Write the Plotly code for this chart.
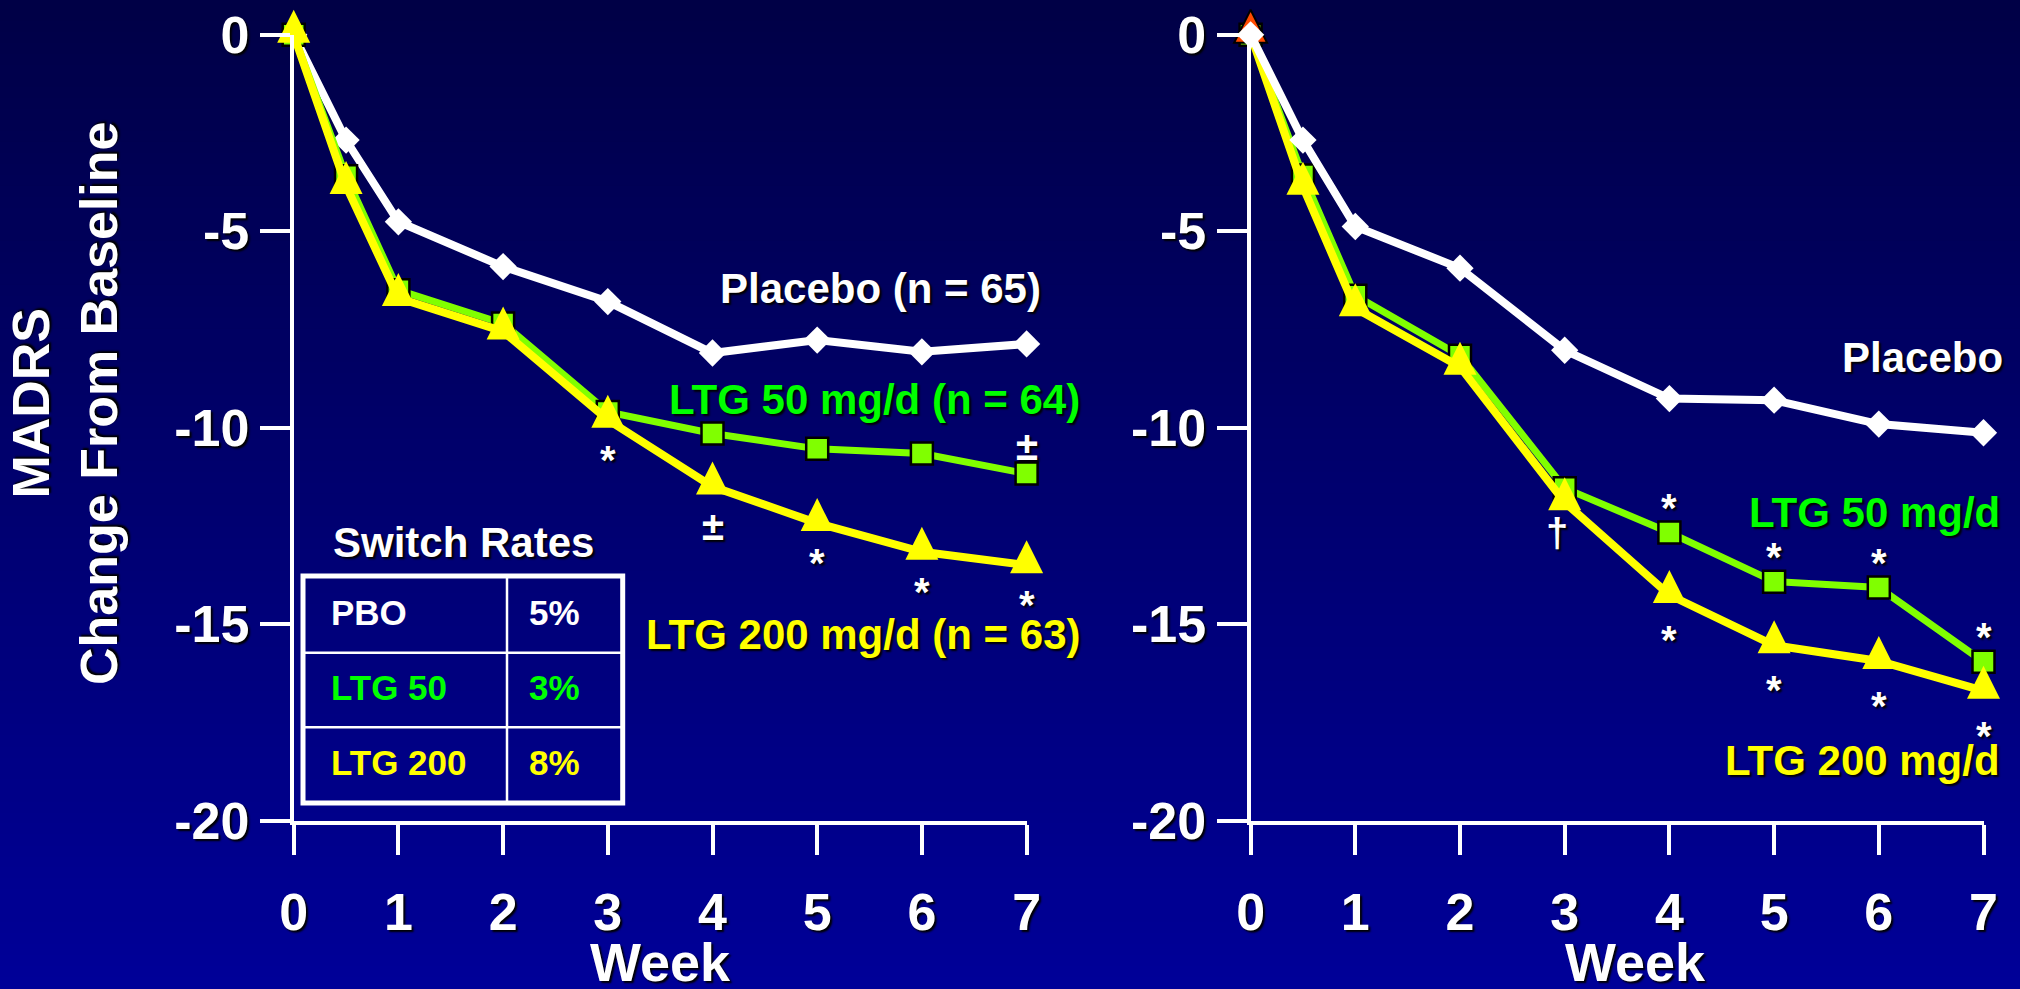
import plotly.graph_objects as go

W, H = 2020, 989

# ---------------- data ----------------
weeks = [0, 0.5, 1, 2, 3, 4, 5, 6, 7]

# Left panel
placebo_a = [0, -2.68, -4.76, -5.9, -6.79, -8.1, -7.77, -8.07, -7.87]
ltg50_a = [0, -3.6, -6.5, -7.35, -9.6, -10.15, -10.54, -10.66, -11.17]
ltg200_a = [0, -3.85, -6.7, -7.55, -9.8, -11.5, -12.43, -13.16, -13.5]
sig_ltg50_a = ["", "", "", "", "", "", "", "", "±"]
sig_ltg200_a = ["", "", "", "", "*", "±", "*", "*", "*"]

# Right panel
placebo_b = [0, -2.68, -4.88, -5.94, -8.03, -9.26, -9.3, -9.91, -10.13]
ltg50_b = [0, -3.58, -6.64, -8.17, -11.54, -12.67, -13.92, -14.07, -15.96]
ltg200_b = [0, -3.87, -6.96, -8.45, -11.9, -14.26, -15.54, -15.94, -16.7]
sig_ltg50_b = ["", "", "", "", "", "*", "*", "*", "*"]
sig_ltg200_b = ["", "", "", "", "†", "*", "*", "*", "*"]

x_ticks = [0, 1, 2, 3, 4, 5, 6, 7]
y_ticks = [0, -5, -10, -15, -20]
y_ticklabels = ["0", "-5", "-10", "-15", "-20"]

left_labels = ["Placebo (n = 65)", "LTG 50 mg/d (n = 64)", "LTG 200 mg/d (n = 63)"]
right_labels = ["Placebo", "LTG 50 mg/d", "LTG 200 mg/d"]

switch_title = "Switch Rates"
switch_groups = ["PBO", "LTG 50", "LTG 200"]
switch_rates = ["5%", "3%", "8%"]

x_title = "Week"
y_title = "MADRS<br>Change From Baseline"

# ---------------- style ----------------
FONT = "Liberation Sans, Arial, Helvetica, sans-serif"
SHADOW = "2px 2px 2px #000000"
WHITE = "#FFFFFF"
GREEN_LINE = "#80FF00"
GREEN_TEXT = "#00FF00"
YELLOW = "#FFFF00"
ORANGE = "#FF4A00"


def fx(px):
    return px / W


def fy(py):
    return 1 - py / H


fig = go.Figure()

# gradient background
shapes = []
n_strips = 90
top_c = (0, 0, 70)
bot_c = (0, 0, 152)
for i in range(n_strips):
    t = i / (n_strips - 1)
    c = tuple(round(top_c[k] + (bot_c[k] - top_c[k]) * t) for k in range(3))
    shapes.append(dict(type="rect", xref="paper", yref="paper", layer="below",
                       x0=0, x1=1, y0=1 - (i + 1) / n_strips - 0.002, y1=1 - i / n_strips + 0.001,
                       fillcolor="rgb(%d,%d,%d)" % c, line=dict(width=0)))


def placebo_trace(y, xa, ya):
    return go.Scatter(x=weeks, y=y, xaxis=xa, yaxis=ya, mode="lines+markers",
                      line=dict(color=WHITE, width=8),
                      marker=dict(symbol="diamond", size=21, color=WHITE, line=dict(width=0)),
                      cliponaxis=False, showlegend=False, hoverinfo="skip")


def ltg50_trace(y, xa, ya):
    return go.Scatter(x=weeks, y=y, xaxis=xa, yaxis=ya, mode="lines+markers",
                      line=dict(color=GREEN_LINE, width=7),
                      marker=dict(symbol="square", size=22, color=GREEN_LINE,
                                  line=dict(color="#000000", width=2.5)),
                      cliponaxis=False, showlegend=False, hoverinfo="skip")


def ltg200_trace(y, xa, ya, first_color=YELLOW, first_line=0):
    colors = [first_color] + [YELLOW] * (len(y) - 1)
    lws = [first_line] + [0] * (len(y) - 1)
    return go.Scatter(x=weeks, y=y, xaxis=xa, yaxis=ya, mode="lines+markers",
                      line=dict(color=YELLOW, width=8),
                      marker=dict(symbol="arrow-down", angle=180, standoff=25, size=33,
                                  color=colors, line=dict(color="#000000", width=lws)),
                      cliponaxis=False, showlegend=False, hoverinfo="skip")


# left panel: placebo under, yellow on top
fig.add_trace(placebo_trace(placebo_a, "x", "y"))
fig.add_trace(ltg50_trace(ltg50_a, "x", "y"))
fig.add_trace(ltg200_trace(ltg200_a, "x", "y"))
# right panel: placebo on top
fig.add_trace(ltg50_trace(ltg50_b, "x2", "y2"))
fig.add_trace(ltg200_trace(ltg200_b, "x2", "y2", first_color=ORANGE, first_line=2))
fig.add_trace(placebo_trace(placebo_b, "x2", "y2"))

annotations = []


def sig_marks(sig, values, xref, yref, shifts):
    for wk, v, s in zip(weeks, values, sig):
        if not s:
            continue
        xs = -8 if s == "†" else 0
        annotations.append(dict(x=wk, y=v, xref=xref, yref=yref, text=s, showarrow=False,
                                xanchor="center", yanchor="middle", yshift=shifts[s], xshift=xs,
                                font=dict(family=FONT, size=40, color=WHITE, weight="bold",
                                          shadow=SHADOW)))


sig_marks(sig_ltg200_a, ltg200_a, "x", "y", {"*": -40, "±": -39})
sig_marks(sig_ltg50_a, ltg50_a, "x", "y", {"±": 28})
sig_marks(sig_ltg200_b, ltg200_b, "x2", "y2", {"*": -45, "†": -31})
sig_marks(sig_ltg50_b, ltg50_b, "x2", "y2", {"*": 25})


def label(text, px, py, color, size=42, anchor="right", shadow=SHADOW, angle=0):
    annotations.append(dict(x=fx(px), y=fy(py), xref="paper", yref="paper", text=text,
                            showarrow=False, xanchor=anchor, yanchor="middle", textangle=angle,
                            font=dict(family=FONT, size=size, color=color, weight="bold",
                                      shadow=shadow)))


# series labels
label(left_labels[0], 1043, 288, WHITE)
label(left_labels[1], 1082, 400, GREEN_TEXT)
label(left_labels[2], 1082, 634, YELLOW)
label(right_labels[0], 2005, 358, WHITE)
label(right_labels[1], 2002, 512, GREEN_TEXT)
label(right_labels[2], 2002, 760, YELLOW)

# axis titles
label(x_title, 660, 962, WHITE, size=54, anchor="center")
label(x_title, 1635, 962, WHITE, size=54, anchor="center")
label(y_title, 65, 404, WHITE, size=52, anchor="center", angle=-90)

# switch rates table
label(switch_title, 463, 542, WHITE, size=42, anchor="center")
row_cols = [WHITE, GREEN_TEXT, YELLOW]
row_y = [612, 687, 762]
for g, r, c, yy in zip(switch_groups, switch_rates, row_cols, row_y):
    label(g, 329, yy, c, size=35, anchor="left", shadow="none")
    label(r, 527, yy, c, size=35, anchor="left", shadow="none")

tbl = dict(x0=303, x1=622.7, y0=576, y1=803, col=507, rows=[652.7, 727.3])
shapes.append(dict(type="rect", xref="paper", yref="paper", x0=fx(tbl["x0"]), x1=fx(tbl["x1"]),
                   y0=fy(tbl["y1"]), y1=fy(tbl["y0"]), line=dict(color=WHITE, width=5),
                   fillcolor="rgba(0,0,0,0)"))
shapes.append(dict(type="line", xref="paper", yref="paper", x0=fx(tbl["col"]), x1=fx(tbl["col"]),
                   y0=fy(tbl["y1"]), y1=fy(tbl["y0"]), line=dict(color=WHITE, width=2.5)))
for ry in tbl["rows"]:
    shapes.append(dict(type="line", xref="paper", yref="paper", x0=fx(tbl["x0"]), x1=fx(tbl["x1"]),
                       y0=fy(ry), y1=fy(ry), line=dict(color=WHITE, width=2.5)))

tickfont = dict(family=FONT, size=52, color=WHITE, weight="bold", shadow=SHADOW)
axis_common = dict(showline=True, linecolor=WHITE, linewidth=4, ticks="outside", ticklen=30,
                   tickwidth=4, tickcolor=WHITE, showgrid=False, zeroline=False,
                   tickfont=tickfont, fixedrange=True, automargin=False)

ydom = [fy(820.5), fy(34.8)]
fig.update_layout(
    template="none",
    width=W, height=H,
    margin=dict(l=0, r=0, t=0, b=0, pad=0, autoexpand=False),
    paper_bgcolor="rgb(0,0,110)",
    plot_bgcolor="rgba(0,0,0,0)",
    showlegend=False,
    shapes=shapes,
    annotations=annotations,
    xaxis=dict(domain=[fx(293.7), fx(1026.6)], range=[0, 7], tickvals=x_ticks,
               ticktext=[str(v) for v in x_ticks], anchor="y", ticklabelstandoff=13, **axis_common),
    yaxis=dict(domain=ydom, range=[-20, 0], tickvals=y_ticks, ticktext=y_ticklabels,
               anchor="x", **axis_common),
    xaxis2=dict(domain=[fx(1250.6), fx(1983.5)], range=[0, 7], tickvals=x_ticks,
                ticktext=[str(v) for v in x_ticks], anchor="y2", ticklabelstandoff=13, **axis_common),
    yaxis2=dict(domain=ydom, range=[-20, 0], tickvals=y_ticks, ticktext=y_ticklabels,
                anchor="x2", **axis_common),
)

fig.write_html("out.html", config={"displayModeBar": False},
               post_script="document.body.style.margin='0';document.body.style.overflow='hidden';")
